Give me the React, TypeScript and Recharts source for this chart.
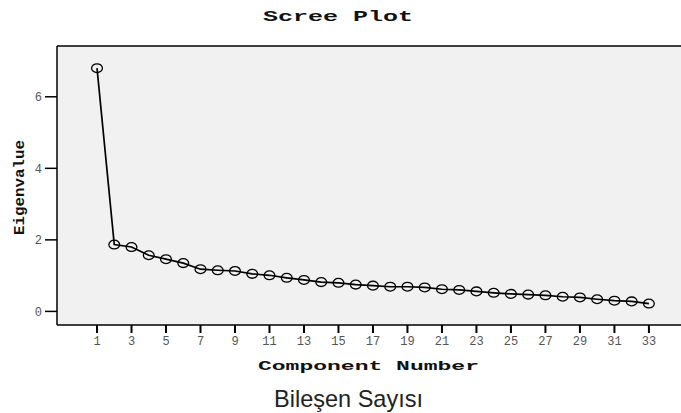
import React from "react"
import { LineChart, Line, XAxis, YAxis, CartesianGrid, ReferenceLine } from "recharts"

const components = [1, 2, 3, 4, 5, 6, 7, 8, 9, 10, 11, 12, 13, 14, 15, 16, 17, 18, 19, 20, 21, 22, 23, 24, 25, 26, 27, 28, 29, 30, 31, 32, 33]
const eigenvalues = [6.8, 1.87, 1.8, 1.57, 1.46, 1.35, 1.18, 1.15, 1.13, 1.05, 1.01, 0.94, 0.88, 0.82, 0.8, 0.75, 0.72, 0.69, 0.69, 0.67, 0.62, 0.6, 0.56, 0.52, 0.49, 0.47, 0.45, 0.41, 0.39, 0.34, 0.3, 0.28, 0.22]
const xTicks = [1, 3, 5, 7, 9, 11, 13, 15, 17, 19, 21, 23, 25, 27, 29, 31, 33]
const yTicks = [0, 2, 4, 6]

const title = "Scree Plot"
const xTitle = "Component Number"
const yTitle = "Eigenvalue"
const caption = "Bileşen Sayısı"

const data = components.map((c, i) => ({ c, v: eigenvalues[i] }))

const Y_MAX = 7.42

function Ring(props: any) {
    const { cx, cy, index } = props
    if (cx == null || cy == null) return null
    return <ellipse key={index} cx={cx} cy={cy} rx={5.4} ry={4.4} fill="none" stroke="#000" strokeWidth={1.3} />
}

const mono = "'Liberation Mono', 'Courier New', monospace"

export default function App() {
    return (
        <div style={{ position: "absolute", left: 0, top: 0, width: 681, height: 413, background: "#fff" }}>
            <LineChart width={681} height={413} data={data} margin={{ top: 46, right: 0, left: 0, bottom: 58 }}>
                <CartesianGrid horizontal={false} vertical={false} fill="#f0f1f0" fillOpacity={1} stroke="none" />
                <XAxis
                    dataKey="c"
                    type="number"
                    domain={[-1.32, 34.86]}
                    allowDataOverflow
                    ticks={xTicks}
                    interval={0}
                    height={30}
                    tickSize={8}
                    tickMargin={3}
                    axisLine={{ stroke: "#000", strokeWidth: 1.5 }}
                    tickLine={{ stroke: "#000", strokeWidth: 2 }}
                    tick={{ fill: "#555", fontSize: 12, fontFamily: mono }}
                />
                <YAxis
                    type="number"
                    domain={[-0.38, Y_MAX]}
                    allowDataOverflow
                    ticks={yTicks}
                    width={57}
                    tickSize={12}
                    tickMargin={3}
                    axisLine={{ stroke: "#000", strokeWidth: 1.5 }}
                    tickLine={{ stroke: "#000", strokeWidth: 1.5 }}
                    tick={{ fill: "#555", fontSize: 12, fontFamily: mono }}
                />
                <ReferenceLine y={Y_MAX} stroke="#000" strokeWidth={1.5} />
                <Line
                    dataKey="v"
                    stroke="#000"
                    strokeWidth={1.7}
                    dot={<Ring />}
                    activeDot={false}
                    isAnimationActive={false}
                />
            </LineChart>
            <svg width={681} height={413} style={{ position: "absolute", left: 0, top: 0, pointerEvents: "none" }}>
                <text x={338} y={21} textAnchor="middle" fontFamily={mono} fontWeight="bold" fontSize={15} fill="#111" textLength={150} lengthAdjust="spacingAndGlyphs">
                    {title}
                </text>
                <text x={368.5} y={370} textAnchor="middle" fontFamily={mono} fontWeight="bold" fontSize={13} fill="#111" textLength={221} lengthAdjust="spacingAndGlyphs">
                    {xTitle}
                </text>
                <text transform="translate(24,187.5) rotate(-90)" x={0} y={0} textAnchor="middle" fontFamily={mono} fontWeight="bold" fontSize={14} fill="#111" textLength={95} lengthAdjust="spacingAndGlyphs">
                    {yTitle}
                </text>
                <text x={348.5} y={407} textAnchor="middle" fontFamily="'Liberation Sans', Arial, sans-serif" fontSize={24} fill="#222" textLength={149} lengthAdjust="spacingAndGlyphs">
                    {caption}
                </text>
            </svg>
        </div>
    )
}
